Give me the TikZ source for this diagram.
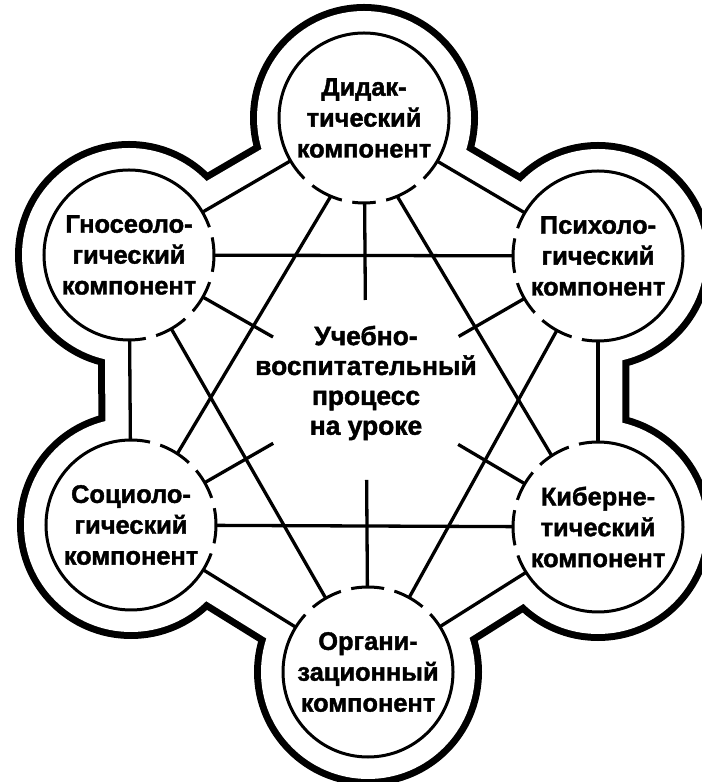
\documentclass[tikz,border=0pt]{standalone}
\usepackage{fontspec}
\setmainfont{Liberation Sans}[BoldFeatures={FakeBold=1.6}]
\usetikzlibrary{calc,backgrounds}

\begin{document}
\begin{tikzpicture}[x=1bp,y=1bp,
  comp/.style={circle,draw,line width=3bp,minimum size=170bp,inner sep=0pt,outer sep=0pt},
  lbl/.style={align=center,inner sep=0pt,font=\bfseries\fontsize{25.5}{31}\selectfont},
  link/.style={line width=3.3bp},
  rim/.style={line width=14bp}]
\useasboundingbox (0,0) rectangle (702,782);
% components
\node[comp] (T)  at (364,664) {};
\node[comp] (UL) at (129,527) {};
\node[comp] (UR) at (598,526) {};
\node[comp] (LL) at (131,257) {};
\node[comp] (LR) at (598,255) {};
\node[comp] (B)  at (368,110) {};
\node[lbl] (tT)  at (T)  {Дидак-\\тический\\компонент};
\node[lbl] (tUL) at (UL) {Гносеоло-\\гический\\компонент};
\node[lbl] (tUR) at (UR) {Психоло-\\гический\\компонент};
\node[lbl] (tLL) at (LL) {Социоло-\\гический\\компонент};
\node[lbl] (tLR) at (LR) {Киберне-\\тический\\компонент};
\node[lbl] (tB)  at (B)  {Органи-\\зационный\\компонент};
% centre
\coordinate (O) at (366,392);
\node[lbl,font=\bfseries\fontsize{26.5}{30}\selectfont] (C) at (366,399)
  {Учебно-\\воспитательный\\процесс\\на уроке};
% outer contour
\begin{scope}[on background layer]
\draw[rim] ($(O)!1.105!(T)$) -- ($(O)!1.105!(UR)$) -- ($(O)!1.105!(LR)$)
  -- ($(O)!1.105!(B)$) -- ($(O)!1.105!(LL)$) -- ($(O)!1.105!(UL)$) -- cycle;
\foreach \n in {T,UL,UR,LL,LR,B} \draw[rim] (\n) circle[radius=107];
\fill[white] ($(O)!1.105!(T)$) -- ($(O)!1.105!(UR)$) -- ($(O)!1.105!(LR)$)
  -- ($(O)!1.105!(B)$) -- ($(O)!1.105!(LL)$) -- ($(O)!1.105!(UL)$) -- cycle;
\foreach \n in {T,UL,UR,LL,LR,B} \fill[white] (\n) circle[radius=107];
\end{scope}
% breaks in the circles
\foreach \n/\a in {T/229,T/258.5,T/281.5,T/311, UL/15.5,UL/-15,UL/-45,UL/-75,
    UR/164.5,UR/195,UR/225.5,UR/255.5, LL/73.5,LL/43.5,LL/15,LL/-16,
    LR/106.5,LR/136.5,LR/165,LR/196, B/134,B/105,B/75.5,B/46.5}
  \draw[white,line width=5bp] ($(\n)+(\a-3.5:85)$) arc[start angle=\a-3.5,end angle=\a+3.5,radius=85];
% links between components
\draw[link] (T) -- (UL);
\draw[link] (T) -- (UR);
\draw[link] (UL) -- (UR);
\draw[link] (UL) -- (LL);
\draw[link] (UR) -- (LR);
\draw[link] (LL) -- (LR);
\draw[link] (LL) -- (B);
\draw[link] (LR) -- (B);
\draw[link] (T.247) -- (LL.57);
\draw[link] (T.293) -- (LR.123);
\draw[link] (UL) -- (B);
\draw[link] (UR) -- (B);
% spokes to the centre
\foreach \n/\d in {T/90bp,B/90bp,UL/107bp,UR/107bp,LL/107bp,LR/107bp}{
  \coordinate (s\n) at ($(O)!\d!(\n)$);
  \draw[link] (\n) -- (s\n);}
\end{tikzpicture}
\end{document}
